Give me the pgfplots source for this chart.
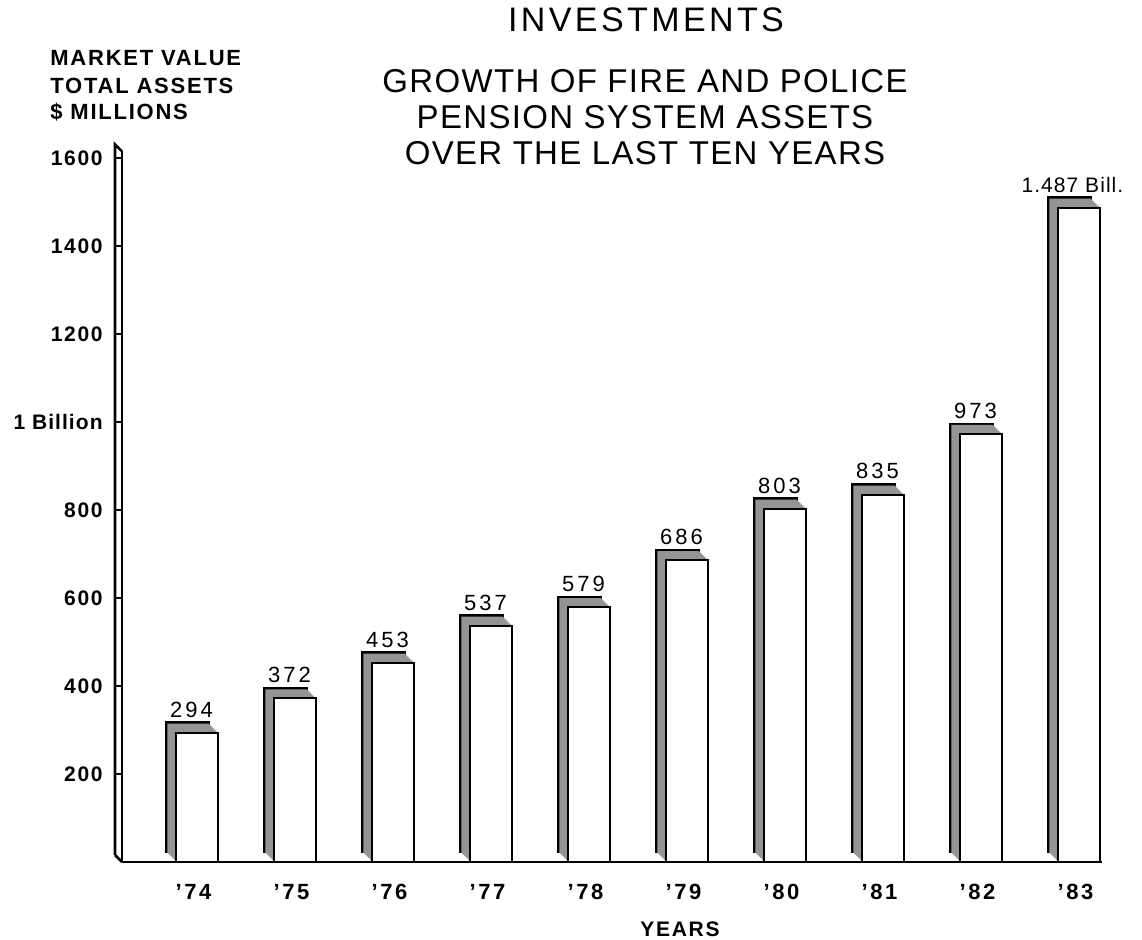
\documentclass[border=0pt]{standalone}
\usepackage{pgfplots}
\pgfplotsset{compat=1.18}
\usepackage{pgfplotstable}
\usepackage{fontspec}
\setmainfont{Liberation Sans}
\newfontfamily\titlefont[LetterSpace=10]{Liberation Sans}
\newfontfamily\subfont[LetterSpace=4]{Liberation Sans}
\newfontfamily\tickfont[LetterSpace=8]{Liberation Sans}
\newfontfamily\xtfont[LetterSpace=12]{Liberation Sans}
\newfontfamily\valfont[LetterSpace=14]{Liberation Sans}
\newfontfamily\bilfont[LetterSpace=5]{Liberation Sans}
\newfontfamily\labfont[LetterSpace=8]{Liberation Sans}

\pgfplotstableread{
x y
0 294
1 372
2 453
3 537
4 579
5 686
6 803
7 835
8 973
9 1487
}\assets

\pgfplotstableread{
x y lab
0 294 294
1 372 372
2 453 453
3 537 537
4 579 579
5 686 686
6 803 803
7 835 835
8 973 973
}\labeled

\begin{document}
\begin{tikzpicture}
\useasboundingbox (-61pt,-38.5pt) rectangle (510pt,431pt);
\begin{axis}[
  at={(0,0)}, anchor=south west,
  scale only axis, width=490pt, height=355.3pt,
  xmin=-0.77, xmax=9.23, ymin=0, ymax=1615,
  clip=false,
  axis lines*=left,
  axis line style={line width=1.3pt},
  xtick={0,...,9},
  xticklabels={’74,’75,’76,’77,’78,’79,’80,’81,’82,’83},
  x tick style={draw=none},
  xticklabel style={font=\xtfont\bfseries\fontsize{11}{12}\selectfont, anchor=center, yshift=-11.5pt, xshift=-2pt},
  ytick={200,400,600,800,1000,1200,1400,1600},
  yticklabels={200,400,600,800,{\bilfont 1 Billion},1200,1400,1600},
  y tick style={line width=1.2pt, black},
  tick align=outside,
  major tick length=3.5pt,
  yticklabel style={font=\tickfont\bfseries\fontsize{10.5}{12}\selectfont, inner sep=0pt, anchor=east, xshift=-6pt},
]
% depth (back) face with outline
\addplot[ybar, bar width=21pt, bar shift=0pt, fill=black!42, draw=black, line width=1.3pt, xshift=-5pt, yshift=5pt] table {\assets};
% intermediate fills to shape the 3D sides
\pgfplotsinvokeforeach{4.5,4,3.5,3,2.5,2,1.5,1,0.5}{
  \addplot[ybar, bar width=21pt, bar shift=0pt, fill=black!42, draw=none, xshift=-#1pt, yshift=#1pt] table {\assets};
}
% front faces
\addplot[ybar, bar width=21pt, bar shift=0pt, fill=white, draw=black, line width=1pt] table {\assets};
% value labels
\addplot[draw=none, nodes near coords, point meta=explicit symbolic,
  every node near coord/.style={font=\valfont\fontsize{11}{12}\selectfont, anchor=south, inner sep=0pt, yshift=7.5pt, xshift=-3pt}]
  table[meta=lab] {\labeled};
\addplot[draw=none, nodes near coords={1.487 Bill.},
  every node near coord/.style={font=\bilfont\fontsize{10.5}{12}\selectfont, anchor=south, inner sep=0pt, yshift=7.5pt, xshift=-3.5pt}]
  coordinates {(9,1487)};
% back line of the y axis prism
\draw[line width=1.3pt] ([shift={(-3.5pt,3.5pt)}]axis cs:-0.77,0) -- ([shift={(-3.5pt,3.5pt)}]axis cs:-0.77,1615) -- (axis cs:-0.77,1615);
\draw[line width=1.3pt] ([shift={(-3.5pt,3.5pt)}]axis cs:-0.77,0) -- (axis cs:-0.77,0);
\end{axis}
\node[font=\titlefont\fontsize{17}{20}\selectfont] at (262pt,421pt) {INVESTMENTS};
\node[font=\subfont\fontsize{16.5}{19}\selectfont] at (261.5pt,390.5pt) {GROWTH OF FIRE AND POLICE};
\node[font=\subfont\fontsize{16.5}{19}\selectfont] at (261.5pt,372.5pt) {PENSION SYSTEM ASSETS};
\node[font=\subfont\fontsize{16.5}{19}\selectfont] at (261.5pt,354.5pt) {OVER THE LAST TEN YEARS};
\node[font=\labfont\bfseries\fontsize{11}{12}\selectfont, anchor=west, inner sep=0pt] at (-36pt,402pt) {MARKET VALUE};
\node[font=\labfont\bfseries\fontsize{11}{12}\selectfont, anchor=west, inner sep=0pt] at (-36pt,388.25pt) {TOTAL ASSETS};
\node[font=\labfont\bfseries\fontsize{11}{12}\selectfont, anchor=west, inner sep=0pt] at (-36pt,374.75pt) {\$ MILLIONS};
\node[font=\labfont\bfseries\fontsize{10.5}{12}\selectfont] at (279pt,-33.5pt) {YEARS};
\end{tikzpicture}
\end{document}
